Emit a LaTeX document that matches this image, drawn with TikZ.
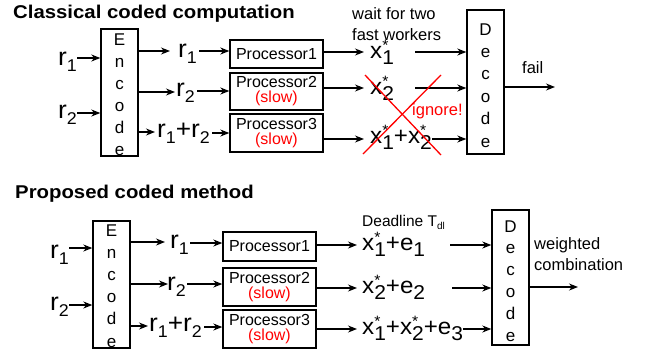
\documentclass[tikz,border=0pt]{standalone}
\usepackage{fontspec}
\setmainfont{Liberation Sans}
\newfontfamily\lblfont[FakeStretch=1.05]{Liberation Sans}
\newfontfamily\ttlfont[FakeStretch=1.1]{Liberation Sans}
\usetikzlibrary{arrows.meta}
\usetikzlibrary{positioning}

\newcommand{\rsb}[1]{r\raisebox{-6pt}{\fontsize{17}{17}\selectfont #1}}
\newcommand{\xsb}[1]{x\rlap{\raisebox{8pt}{\fontsize{15}{15}\selectfont *}}\raisebox{-6pt}{\fontsize{20}{20}\selectfont #1}}
\newcommand{\esb}[1]{e\raisebox{-6pt}{\fontsize{20}{20}\selectfont #1}}

\begin{document}
\begin{tikzpicture}[x=1pt,y=-1pt,
    title/.style={font=\ttlfont\bfseries\fontsize{18.5}{20}\selectfont, inner sep=0, anchor=base west},
    codebox/.style={draw, line width=1.4pt, minimum width=37pt, inner sep=0},
    proc/.style={draw, line width=1.4pt, minimum width=93pt, inner sep=0, align=center, font=\fontsize{16}{15}\selectfont},
    letter/.style={font=\fontsize{17}{17}\selectfont, inner sep=0, anchor=base},
    rlbl/.style={font=\lblfont\fontsize{25}{25}\selectfont, inner sep=0, anchor=base west},
    xlbl/.style={font=\lblfont\fontsize{23}{23}\selectfont, inner sep=0, anchor=base west},
    note/.style={font=\fontsize{16.5}{20.5}\selectfont, inner sep=0, anchor=base west, align=left},
    arrow/.style={draw, line width=1.2pt, -{Stealth[length=9pt,width=7pt]}},
    cross/.style={draw, red, line width=1.3pt}
  ]
  \useasboundingbox (0,0) rectangle (645,354);

  % classical coded computation
  \node[title] (t1) at (13,18) {Classical coded computation};
  \node[codebox, minimum height=127pt] (enc1) at (119.5,92.5) {};
  \foreach \ch [count=\i from 0] in {E,n,c,o,d,e}
    \node[letter] at (119.5,{45+22*\i}) {\ch};
  \node[rlbl] (ri1) at (58,65) {\rsb{1}};
  \node[rlbl] (ri2) at (58,118) {\rsb{2}};
  \draw[arrow] (ri1.east |- 0,58) -- (enc1.west |- 0,58);
  \draw[arrow] (ri2.east |- 0,113) -- (enc1.west |- 0,113);

  \node[proc, minimum height=28pt] (p1) at (276.5,54) {Processor1};
  \node[proc, minimum height=37pt] (p2) at (276.5,91.5) {Processor2\\\textcolor{red}{(slow)}};
  \node[proc, minimum height=38pt] (p3) at (276.5,133) {Processor3\\\textcolor{red}{(slow)}};

  \node[rlbl] (ra1) at (178,57) {\rsb{1}};
  \node[rlbl] (ra2) at (176,96) {\rsb{2}};
  \node[rlbl] (ra3) at (157,137) {\rsb{1}+\rsb{2}};
  \draw[arrow] (enc1.east |- 0,51) -- ([xshift=-8pt]ra1.west |- 0,51);
  \draw[arrow] (enc1.east |- 0,92) -- ([xshift=-1pt]ra2.west |- 0,92);
  \draw[arrow] (enc1.east |- 0,132) -- ([xshift=-2pt]ra3.west |- 0,132);
  \draw[arrow] ([xshift=2pt]ra1.east |- 0,51) -- (p1.west |- 0,51);
  \draw[arrow] ([xshift=2pt]ra2.east |- 0,91) -- (p2.west |- 0,91);
  \draw[arrow] ([xshift=2pt]ra3.east |- 0,133) -- (p3.west |- 0,133);

  \node[xlbl] (xa1) at (370,58) {\xsb{1}};
  \node[xlbl] (xa2) at (370,94) {\xsb{2}};
  \node[xlbl] (xa3) at (370,143) {\xsb{1}+\xsb{2}};
  \draw[arrow] (p1.east |- 0,52) -- ([xshift=-6pt]xa1.west |- 0,52);
  \draw[arrow] (p2.east |- 0,88) -- ([xshift=-6pt]xa2.west |- 0,88);
  \draw[arrow] (p3.east |- 0,139) -- ([xshift=-6pt]xa3.west |- 0,139);

  \node[codebox, minimum height=144pt] (dec1) at (485.5,82) {};
  \foreach \ch [count=\i from 0] in {D,e,c,o,d,e}
    \node[letter] at (485.5,{35+22.4*\i}) {\ch};
  \coordinate (wa1) at (415,52);
  \coordinate (wa2) at (415,88);
  \draw[arrow] (wa1) -- (dec1.west |- wa1);
  \draw[arrow] (wa2) -- (dec1.west |- wa2);
  \draw[arrow] (xa3.east |- 0,139) -- (dec1.west |- 0,139);
  \node[note] (wait) at (352,40) {wait for two\\fast workers};
  \node[note] (fail) at (522,73) {fail};
  \coordinate (out1) at (555,87);
  \draw[arrow] (dec1.east |- out1) -- (out1);

  \draw[cross] (365,75) -- (441,155);
  \draw[cross] (363,154) -- (441,75);
  \node[note, text=red] (ign) at (412,115) {ignore!};

  % proposed coded method
  \node[title] (t2) at (15,198) {Proposed coded method};
  \node[codebox, minimum height=127pt] (enc2) at (111.5,284.5) {};
  \foreach \ch [count=\i from 0] in {E,n,c,o,d,e}
    \node[letter] at (111.5,{236+22.2*\i}) {\ch};
  \node[rlbl] (ri3) at (50,258) {\rsb{1}};
  \node[rlbl] (ri4) at (50,310) {\rsb{2}};
  \draw[arrow] (ri3.east |- 0,248) -- (enc2.west |- 0,248);
  \draw[arrow] (ri4.east |- 0,305) -- (enc2.west |- 0,305);

  \node[proc, minimum height=29pt] (p4) at (269.5,246.5) {Processor1};
  \node[proc, minimum height=38pt] (p5) at (269.5,287) {Processor2\\\textcolor{red}{(slow)}};
  \node[proc, minimum height=38pt] (p6) at (269.5,329) {Processor3\\\textcolor{red}{(slow)}};

  \node[rlbl] (rb1) at (170,248) {\rsb{1}};
  \node[rlbl] (rb2) at (167,290) {\rsb{2}};
  \node[rlbl] (rb3) at (149,331) {\rsb{1}+\rsb{2}};
  \draw[arrow] (enc2.east |- 0,242) -- ([xshift=-5pt]rb1.west |- 0,242);
  \draw[arrow] (enc2.east |- 0,284) -- ([xshift=1pt]rb2.west |- 0,284);
  \draw[arrow] (enc2.east |- 0,326) -- ([xshift=-1pt]rb3.west |- 0,326);
  \draw[arrow] ([xshift=1pt]rb1.east |- 0,243) -- (p4.west |- 0,243);
  \draw[arrow] ([xshift=1pt]rb2.east |- 0,284) -- (p5.west |- 0,284);
  \draw[arrow] ([xshift=2pt]rb3.east |- 0,327) -- (p6.west |- 0,327);

  \node[xlbl] (xb1) at (362,250) {\xsb{1}+\esb{1}};
  \node[xlbl] (xb2) at (362,293) {\xsb{2}+\esb{2}};
  \node[xlbl] (xb3) at (362,334) {\xsb{1}+\xsb{2}+\esb{3}};
  \draw[arrow] (p4.east |- 0,245) -- ([xshift=-5pt]xb1.west |- 0,245);
  \draw[arrow] (p5.east |- 0,288) -- ([xshift=-5pt]xb2.west |- 0,288);
  \draw[arrow] (p6.east |- 0,329) -- ([xshift=-5pt]xb3.west |- 0,329);

  \node[codebox, minimum height=135pt] (dec2) at (510.5,277.5) {};
  \foreach \ch [count=\i from 0] in {D,e,c,o,d,e}
    \node[letter] at (510.5,{232+21.8*\i}) {\ch};
  \coordinate (wb1) at (450,245);
  \coordinate (wb2) at (452,288);
  \draw[arrow] (wb1) -- (dec2.west |- wb1);
  \draw[arrow] (wb2) -- (dec2.west |- wb2);
  \draw[arrow] (xb3.east |- 0,329) -- (dec2.west |- 0,329);
  \node[note, font=\fontsize{15.5}{18}\selectfont] (dl) at (362,226) {Deadline T\raisebox{-3pt}{\fontsize{10}{10}\selectfont dl}};
  \node[note] (comb) at (534,270) {weighted\\combination};
  \coordinate (out2) at (578,287);
  \draw[arrow] (dec2.east |- out2) -- (out2);
\end{tikzpicture}
\end{document}
